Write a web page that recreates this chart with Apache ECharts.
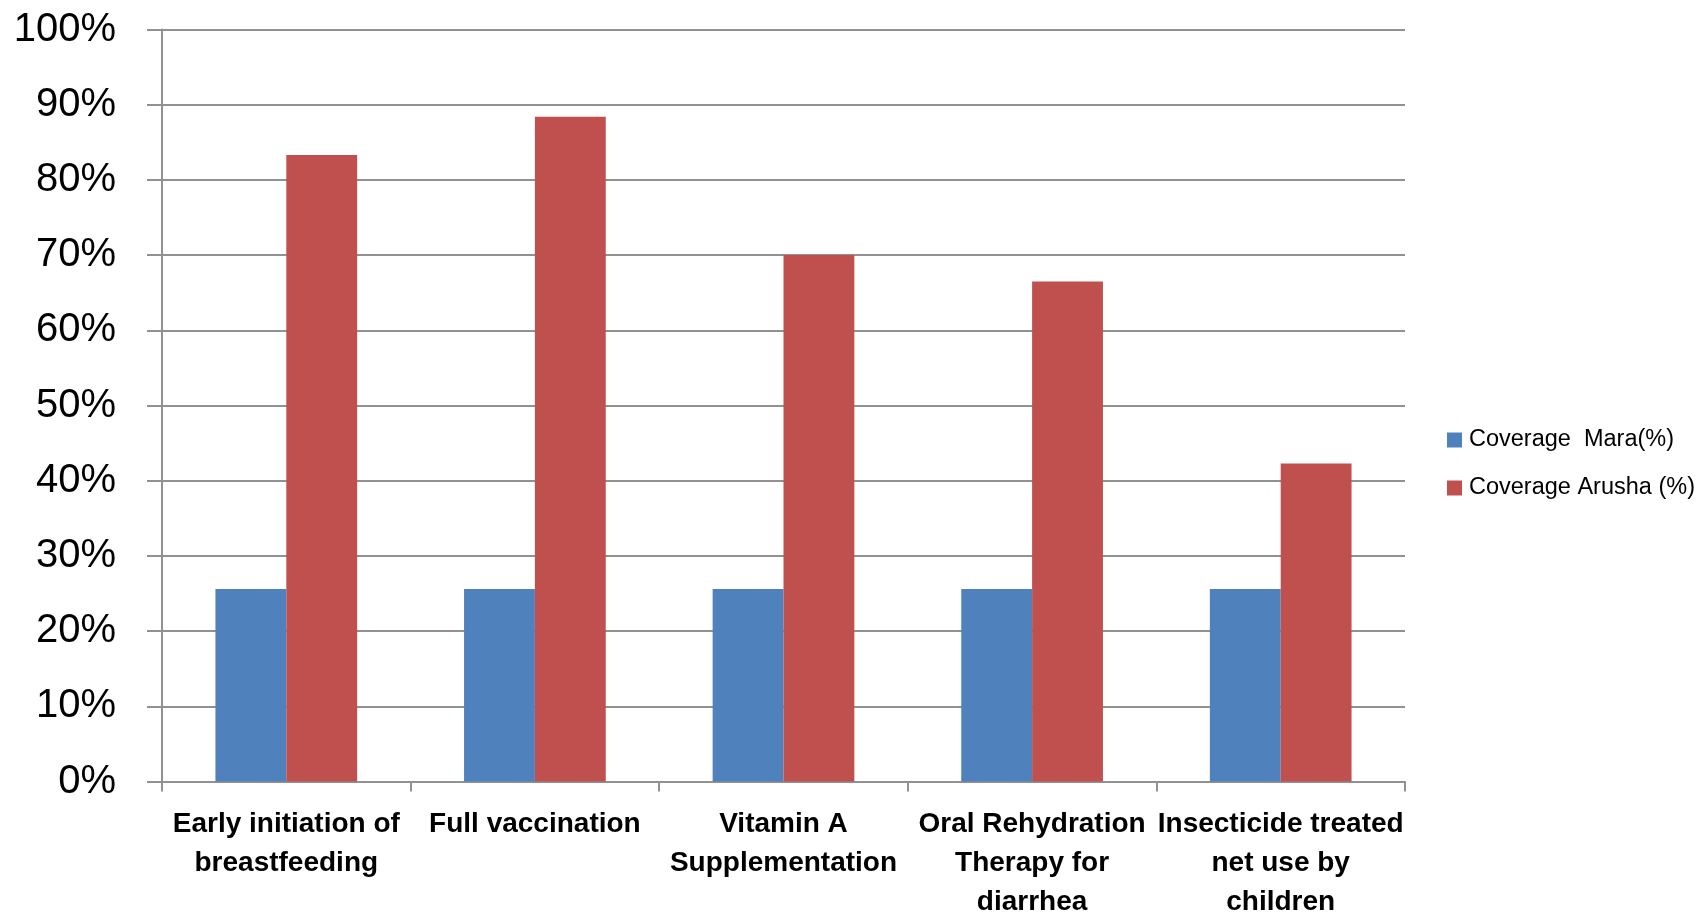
<!DOCTYPE html>
<html>
  <head>
    <meta charset="utf-8">
    <title>Coverage</title>
    <script src="https://cdn.jsdelivr.net/npm/echarts@6/dist/echarts.min.js"></script>
    <style>
      html, body { margin: 0; padding: 0; background: #fff; }
    </style>
  </head>
  <body>
    <div id="main" style="width: 1696px;height:915px;"></div>
    <script type="text/javascript">
      // categories (line breaks as in the picture)
      var categories = [
        'Early initiation of\nbreastfeeding',
        'Full vaccination',
        'Vitamin A\nSupplementation',
        'Oral Rehydration\nTherapy for\ndiarrhea',
        'Insecticide treated\nnet use by\nchildren'
      ];
      var maraValues = [25.6, 25.6, 25.6, 25.6, 25.6];
      var arushaValues = [83.3, 88.4, 70.0, 66.5, 42.3];
      var seriesNames = ['Coverage  Mara(%)', 'Coverage Arusha (%)'];

      var lineColor = '#919191';

      var myChart = echarts.init(document.getElementById('main'));

      var option = {
        animation: false,
        grid: {
          left: 162,
          right: 291,
          top: 29.5,
          bottom: 133.5,
          containLabel: false,
          outerBoundsMode: 'none'
        },
        legend: {
          orient: 'vertical',
          left: 1447,
          top: 428,
          padding: 0,
          itemWidth: 15,
          itemHeight: 15,
          itemGap: 24,
          icon: 'rect',
          textStyle: {
            fontFamily: 'Liberation Sans',
            fontSize: 23.5,
            lineHeight: 24,
            padding: [0, 0, 0, 2],
            color: '#000'
          },
          data: seriesNames
        },
        xAxis: {
          type: 'category',
          data: categories,
          axisLine: { lineStyle: { color: lineColor, width: 2 } },
          axisTick: { show: true, length: 10, lineStyle: { color: lineColor, width: 2 } },
          axisLabel: {
            interval: 0,
            margin: 23,
            fontFamily: 'Liberation Sans',
            fontWeight: 'bold',
            fontSize: 28,
            lineHeight: 39,
            color: '#000'
          }
        },
        yAxis: {
          type: 'value',
          min: 0,
          max: 100,
          interval: 10,
          axisLine: { show: true, lineStyle: { color: lineColor, width: 2 } },
          axisTick: { show: true, length: 15, lineStyle: { color: lineColor, width: 2 } },
          splitLine: { show: true, lineStyle: { color: lineColor, width: 2 } },
          axisLabel: {
            margin: 46,
            fontFamily: 'Liberation Sans',
            fontSize: 40,
            color: '#000',
            formatter: '{value}%'
          }
        },
        series: [
          {
            name: seriesNames[0],
            type: 'bar',
            data: maraValues,
            barGap: '0%',
            barCategoryGap: '43%',
            itemStyle: { color: '#4F81BD' }
          },
          {
            name: seriesNames[1],
            type: 'bar',
            data: arushaValues,
            barGap: '0%',
            barCategoryGap: '43%',
            itemStyle: { color: '#C0504D' }
          }
        ]
      };

      myChart.setOption(option);
    </script>
  </body>
</html>
